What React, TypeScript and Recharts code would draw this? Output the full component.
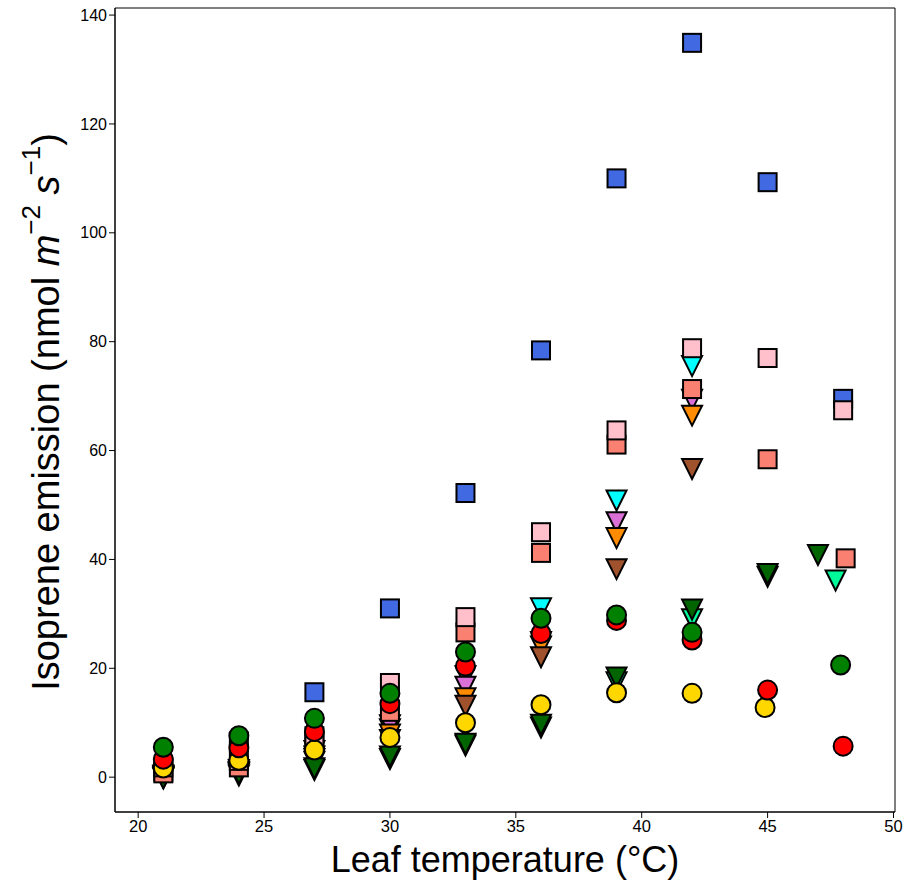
import { ScatterChart, Scatter, XAxis, YAxis, Label, ReferenceArea } from "recharts";

// leaf temperatures (°C) at which each genotype was measured
const temps = [21, 24, 27, 30, 33, 36, 39, 42, 45, 48];
const tempsTo42 = [21, 24, 27, 30, 33, 36, 39, 42];
const darkGreenTemps = [21, 24, 27, 30, 33, 36, 39, 42, 45, 47];
const springTemps = [21, 24, 27, 30, 33, 36, 39, 42, 45, 47.7];
const salmonTemps = [21, 24, 27, 30, 33, 36, 39, 42, 45, 48.1];
const greenTemps = [21, 24, 27, 30, 33, 36, 39, 42, 47.9];
const goldTemps = [21, 24, 27, 30, 33, 36, 39, 42, 44.9];

// isoprene emission (nmol m-2 s-1)
const blueSq = [1, 6.5, 15.6, 31, 52.2, 78.4, 110, 134.9, 109.3, 69.5];
const pinkSq = [1.8, 3, 7.5, 17.3, 29.4, 45, 63.7, 78.8, 77, 67.4];
const salmonSq = [0.7, 1.8, 6.5, 12, 26.6, 41.2, 61.1, 71.3, 58.4, 40.2];
const cyanTri = [0.5, 1.5, 5, 9, 18.7, 31.2, 51, 75.7];
const orchidTri = [0.3, 1.2, 4, 9.7, 16.8, 25, 47, 69.5];
const orangeTri = [0.3, 1, 3.5, 8, 14.7, 24.2, 44.1, 66.6];
const siennaTri = [0.2, 1, 3, 7, 13.3, 22.2, 38.4, 56.8];
const darkGreenTri = [0, 0.8, 1.8, 4, 6.3, 9.8, 18.5, 31, 37.5, 41];
const springTri = [0, 0.5, 1.5, 3.5, 6, 9.3, 17.6, 29.2, 37, 36.3];
const greenCirc = [5.5, 7.6, 10.8, 15.4, 23, 29.2, 29.8, 26.6, 20.6];
const redCirc = [3.3, 5.4, 8.4, 13.5, 20.4, 26.4, 28.8, 25.2, 16, 5.7];
const goldCirc = [1.7, 3.1, 5, 7.3, 10, 13.3, 15.5, 15.4, 12.8];

const xTicks = [20, 25, 30, 35, 40, 45, 50];
const yTicks = [0, 20, 40, 60, 80, 100, 120, 140];
const xDomain = [19.08, 50.06];
const yDomain = [-6.4, 141.3];

const FONT = "'Liberation Sans', Arial, sans-serif";

const pts = (xs: number[], ys: number[]) => ys.map((y, i) => ({ x: xs[i], y }));

const square = (fill: string) => (p: any) => (
    <rect x={p.cx - 9} y={p.cy - 9} width={18} height={18} fill={fill} stroke="#000" strokeWidth={2} />
);
const circle = (fill: string) => (p: any) => (
    <circle cx={p.cx} cy={p.cy} r={9.5} fill={fill} stroke="#000" strokeWidth={2} />
);
const triangle = (fill: string) => (p: any) => (
    <polygon
        points={`${p.cx - 10},${p.cy - 9} ${p.cx + 10},${p.cy - 9} ${p.cx},${p.cy + 11}`}
        fill={fill}
        stroke="#000"
        strokeWidth={2}
    />
);

// draw order matters: triangles, then squares, then circles
const series = [
    { name: "cyan", data: pts(tempsTo42, cyanTri), shape: triangle("#00FFFF") },
    { name: "orchid", data: pts(tempsTo42, orchidTri), shape: triangle("#DA70D6") },
    { name: "orange", data: pts(tempsTo42, orangeTri), shape: triangle("#FF8C00") },
    { name: "sienna", data: pts(tempsTo42, siennaTri), shape: triangle("#A0522D") },
    { name: "spring", data: pts(springTemps, springTri), shape: triangle("#00FA9A") },
    { name: "darkgreen", data: pts(darkGreenTemps, darkGreenTri), shape: triangle("#006400") },
    { name: "blue", data: pts(temps, blueSq), shape: square("#4169E1") },
    { name: "salmon", data: pts(salmonTemps, salmonSq), shape: square("#FA8072") },
    { name: "pink", data: pts(temps, pinkSq), shape: square("#FFC0CB") },
    { name: "gold", data: pts(goldTemps, goldCirc), shape: circle("#FFD700") },
    { name: "red", data: pts(temps, redCirc), shape: circle("#FF0000") },
    { name: "green", data: pts(greenTemps, greenCirc), shape: circle("#008000") },
];

const YLabel = (props: any) => {
    const vb = props.viewBox;
    const cx = 46;
    const cy = vb.y + vb.height / 2 + 2;
    return (
        <text
            x={cx}
            y={cy}
            transform={`rotate(-90, ${cx}, ${cy})`}
            textAnchor="middle"
            dominantBaseline="central"
            fontFamily={FONT}
            fontSize={38}
            fill="#000"
        >
            Isoprene emission (nmol <tspan fontStyle="italic">m</tspan>
            <tspan dy={-15} fontSize={26}>−2</tspan>
            <tspan dy={15}> </tspan>
            <tspan fontStyle="italic">s</tspan>
            <tspan dy={-15} fontSize={26}>−1</tspan>
            <tspan dy={15}>)</tspan>
        </text>
    );
};

export default function App() {
    return (
        <div style={{ position: "absolute", left: 0, top: 0, background: "#fff" }}>
            <ScatterChart width={906} height={885} margin={{ top: 8, right: 11, bottom: 43, left: 0 }}>
                <XAxis
                    xAxisId="b"
                    type="number"
                    dataKey="x"
                    domain={xDomain}
                    ticks={xTicks}
                    allowDataOverflow
                    height={30}
                    stroke="#000"
                    tickSize={6}
                    tick={{ fill: "#000", fontSize: 16.5, fontFamily: FONT }}
                >
                    <Label
                        value="Leaf temperature (°C)"
                        position="bottom"
                        offset={4}
                        style={{ fontSize: 36, fill: "#000", fontFamily: FONT }}
                    />
                </XAxis>
                <YAxis
                    yAxisId="l"
                    type="number"
                    dataKey="y"
                    domain={yDomain}
                    ticks={yTicks}
                    allowDataOverflow
                    width={115}
                    stroke="#000"
                    tickSize={6}
                    tick={{ fill: "#000", fontSize: 16, fontFamily: FONT }}
                >
                    <Label content={<YLabel />} />
                </YAxis>
                <ReferenceArea
                    xAxisId="b"
                    yAxisId="l"
                    x1={xDomain[0]}
                    x2={xDomain[1]}
                    y1={yDomain[0]}
                    y2={yDomain[1]}
                    fill="#fff"
                    fillOpacity={0}
                    stroke="#000"
                    strokeWidth={1}
                    strokeOpacity={1}
                    ifOverflow="visible"
                />
                {series.map((s) => (
                    <Scatter
                        key={s.name}
                        xAxisId="b"
                        yAxisId="l"
                        data={s.data}
                        shape={s.shape}
                        isAnimationActive={false}
                    />
                ))}
            </ScatterChart>
        </div>
    );
}
